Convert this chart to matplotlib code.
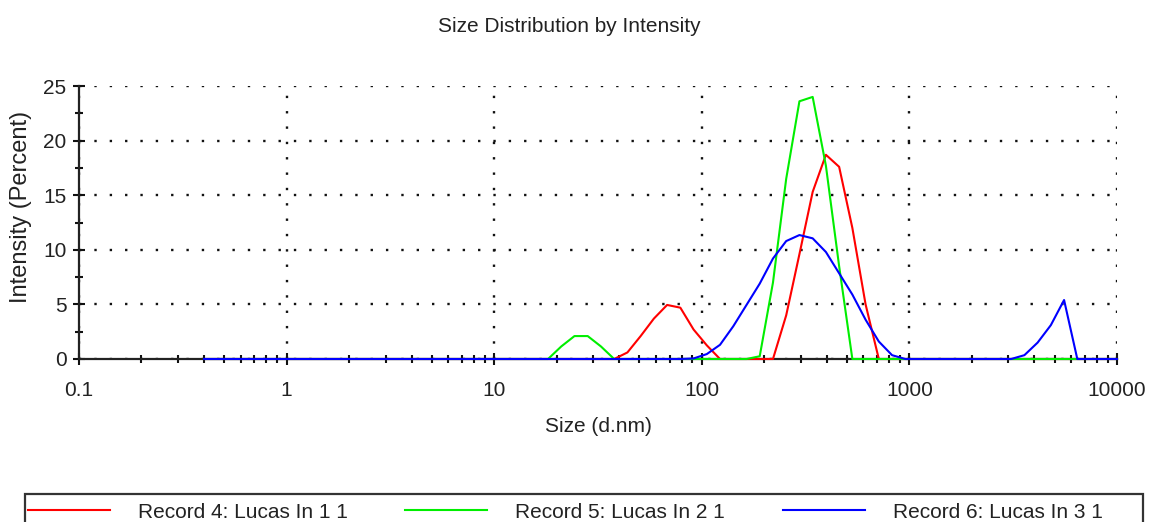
import matplotlib
matplotlib.use("Agg")
import matplotlib.pyplot as plt
from matplotlib.ticker import FixedLocator, FixedFormatter
from matplotlib.lines import Line2D
from matplotlib.patches import Rectangle

plt.rcParams['font.family'] = ['Liberation Sans', 'DejaVu Sans']

# Size classes (d.nm)
sizes = [0.4, 0.4632, 0.5365, 0.6213, 0.7195, 0.8332, 0.9649, 1.117, 1.294, 1.499,
         1.736, 2.01, 2.328, 2.696, 3.122, 3.615, 4.187, 4.849, 5.615, 6.503,
         7.531, 8.721, 10.1, 11.7, 13.54, 15.69, 18.17, 21.04, 24.36, 28.21,
         32.67, 37.84, 43.82, 50.75, 58.77, 68.06, 78.82, 91.28, 105.7, 122.4,
         141.8, 164.2, 190.1, 220.2, 255.0, 295.3, 342.0, 396.1, 458.7, 531.2,
         615.1, 712.4, 825.0, 955.4, 1106, 1281, 1484, 1718, 1990, 2305,
         2669, 3091, 3580, 4145, 4801, 5560, 6439, 7456, 8635, 10000]

record4 = [0, 0, 0, 0, 0, 0, 0, 0, 0, 0,
           0, 0, 0, 0, 0, 0, 0, 0, 0, 0,
           0, 0, 0, 0, 0, 0, 0, 0, 0, 0,
           0, 0, 0.6, 2.1, 3.7, 4.95, 4.7, 2.7, 1.25, 0,
           0, 0, 0, 0, 4.0, 9.6, 15.3, 18.7, 17.6, 12.0,
           5.0, 0, 0, 0, 0, 0, 0, 0, 0, 0,
           0, 0, 0, 0, 0, 0, 0, 0, 0, 0]

record5 = [0, 0, 0, 0, 0, 0, 0, 0, 0, 0,
           0, 0, 0, 0, 0, 0, 0, 0, 0, 0,
           0, 0, 0, 0, 0, 0, 0, 1.15, 2.1, 2.1,
           1.15, 0, 0, 0, 0, 0, 0, 0, 0, 0,
           0, 0, 0.25, 7.0, 16.5, 23.6, 24.0, 17.7, 8.5, 0,
           0, 0, 0, 0, 0, 0, 0, 0, 0, 0,
           0, 0, 0, 0, 0, 0, 0, 0, 0, 0]

record6 = [0, 0, 0, 0, 0, 0, 0, 0, 0, 0,
           0, 0, 0, 0, 0, 0, 0, 0, 0, 0,
           0, 0, 0, 0, 0, 0, 0, 0, 0, 0,
           0, 0, 0, 0, 0, 0, 0, 0.05, 0.45, 1.3,
           3.0, 4.95, 6.9, 9.2, 10.8, 11.35, 11.05, 9.8, 7.85, 5.9,
           3.6, 1.6, 0.35, 0, 0, 0, 0, 0, 0, 0,
           0, 0, 0.35, 1.5, 3.1, 5.4, 0, 0, 0, 0]

series_names = ["Record 4: Lucas In 1 1", "Record 5: Lucas In 2 1", "Record 6: Lucas In 3 1"]
series_colors = ["#ff0000", "#00ee00", "#0000ff"]

x_major = [0.1, 1, 10, 100, 1000, 10000]
x_major_labels = ["0.1", "1", "10", "100", "1000", "10000"]
y_major = [0, 5, 10, 15, 20, 25]
y_minor = [2.5, 7.5, 12.5, 17.5, 22.5]

W, H = 1149, 522
fig = plt.figure(figsize=(W / 100, H / 100), dpi=100)
fig.patch.set_facecolor("white")
ax = fig.add_axes([79 / W, 1 - 359 / H, (1117 - 79) / W, (359 - 86) / H])

for vals, col in zip([record4, record5, record6], series_colors):
    ax.plot(sizes, vals, color=col, lw=1.5, zorder=3, clip_on=False)

ax.set_xscale("log")
ax.set_xlim(0.1, 10000)
ax.set_ylim(0, 25)

ax.xaxis.set_major_locator(FixedLocator(x_major))
ax.xaxis.set_major_formatter(FixedFormatter(x_major_labels))
minors = [m * d for d in [0.1, 1, 10, 100, 1000] for m in range(2, 10)]
ax.xaxis.set_minor_locator(FixedLocator(minors))
ax.xaxis.set_minor_formatter(FixedFormatter([""] * len(minors)))
ax.yaxis.set_major_locator(FixedLocator(y_major))
ax.yaxis.set_minor_locator(FixedLocator(y_minor))

for s in ["top", "right"]:
    ax.spines[s].set_visible(False)
for s in ["left", "bottom"]:
    ax.spines[s].set_linewidth(1.6)
    ax.spines[s].set_color("#222222")
    ax.spines[s].set_zorder(2.5)

ax.tick_params(axis="both", which="major", direction="inout", length=8, width=1.5,
               color="#111111", labelsize=15, labelcolor="#222222")
ax.tick_params(axis="both", which="minor", direction="inout", length=6, width=1.5,
               color="#111111")
ax.tick_params(axis="x", which="major", pad=12)
ax.tick_params(axis="y", which="major", pad=5)

ax.grid(True, which="major", color="#111111", linestyle=(0, (1, 5.5)), linewidth=1.7)
ax.set_axisbelow(True)

fig.text(569 / W, 1 - 26 / H, "Size Distribution by Intensity", ha="center", va="center",
         fontsize=15, color="#222222")
fig.text(598 / W, 1 - 427 / H, "Size (d.nm)", ha="center", va="center",
         fontsize=15, color="#222222")
fig.text(21 / W, 1 - 207 / H, "Intensity (Percent)", ha="center", va="center",
         rotation=90, fontsize=17, color="#222222")

# legend box
fig.add_artist(Rectangle((25 / W, -0.05), (1143 - 25) / W, (1 - 494 / H) + 0.05,
                         transform=fig.transFigure, fill=False, lw=1.6,
                         edgecolor="#333333"))
line_x = [(28, 110), (405, 487), (783, 865)]
text_x = [138, 515, 893]
for (x0, x1), tx, name, col in zip(line_x, text_x, series_names, series_colors):
    fig.add_artist(Line2D([x0 / W, x1 / W], [1 - 510 / H, 1 - 510 / H],
                          transform=fig.transFigure, color=col, lw=1.5))
    fig.text(tx / W, 1 - 518 / H, name, ha="left", va="baseline", fontsize=15,
             color="#222222")

fig.savefig("out.png", dpi=100)
